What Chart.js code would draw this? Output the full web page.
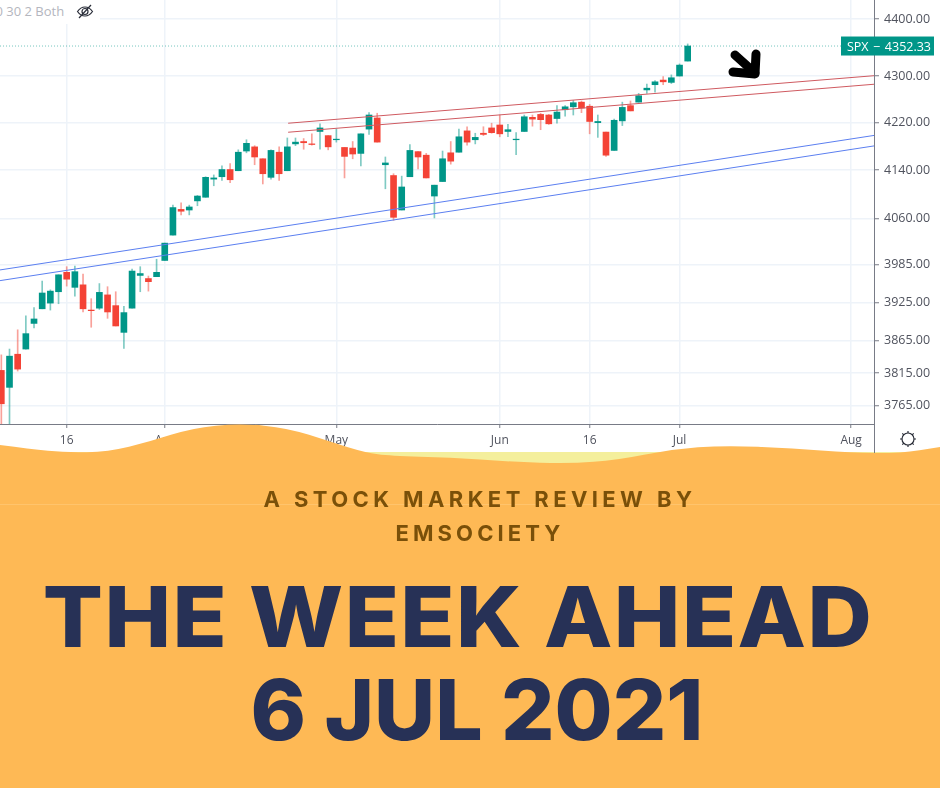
<!DOCTYPE html>
<html>
<head>
<meta charset="utf-8">
<title>The Week Ahead</title>
<script src="https://cdn.jsdelivr.net/npm/chart.js@4"></script>
<style>
  html, body { margin: 0; padding: 0; background: #fff; }
  #page { position: relative; width: 940px; height: 788px; overflow: hidden; font-family: Inter, "Open Sans", sans-serif; }
  #chart { position: absolute; left: 0; top: 0; }
  #legendBg { position: absolute; left: 0; top: 0; width: 100px; height: 24px; background: #fff; }
  #overlay, #banner { position: absolute; left: 0; top: 0; }
  .line { position: absolute; left: 0; width: 940px; text-align: center; white-space: nowrap; }
  .sub { color: #7a5009; font-weight: 700; font-size: 22px; }
  .big { color: #273156; font-weight: 800; font-size: 84px; line-height: 100px; }
</style>
</head>
<body>
<div id="page">
  <canvas id="chart" width="940" height="460"></canvas>
  <div id="legendBg"></div>
  <div style="position:absolute;left:-12px;top:2px;font:13px 'Open Sans',sans-serif;color:#b4b6be;white-space:nowrap">10 30 2 Both</div>
  <svg id="overlay" width="940" height="460">
    <!-- hidden-eye icon -->
    <g fill="none" stroke="#2a2e39" stroke-width="1.2">
      <path d="M77.5 11.5c4-6 11-6 15 0c-4 6-11 6-15 0z"/>
      <circle cx="85" cy="11.5" r="3"/>
      <path d="M79 18L91 5"/>
    </g>
    <!-- arrow hand drawn on the chart -->
    <g fill="none" stroke="#000" stroke-width="9" stroke-linecap="round" stroke-linejoin="round">
      <path d="M735 55L755 73"/>
      <path d="M756 54L755 74L733 72"/>
    </g>
  </svg>
  <svg id="banner" width="940" height="788"></svg>
  <div class="line sub" style="top:486px;left:10px;letter-spacing:4.4px">A STOCK MARKET REVIEW BY</div>
  <div class="line sub" style="top:520px;left:10px;letter-spacing:4.1px">EMSOCIETY</div>
  <div class="line big" style="top:567px;left:-12px;letter-spacing:1.3px;transform:scaleX(1.06)">THE WEEK AHEAD</div>
  <div class="line big" style="top:660px;left:7px">6 JUL 2021</div>
</div>
<script>
// SPX daily candles
const opens = [3819,3793,3844,3852,3892,3915,3924,3942,3973,3949,3953,3913,3916,3937,3920,3878,3916,3968,3963,3966,3992,4033,4075,4074,4089,4095,4125,4129,4141,4139,4172,4179,4159,4128,4170,4139,4184,4188,4184,4205,4198,4191,4178,4177,4168,4209,4228,4149,4131,4074,4129,4171,4165,4097,4121,4169,4170,4206,4191,4202,4211,4216,4205,4191,4205,4229,4234,4233,4227,4242,4247,4255,4248,4220,4204,4173,4223,4249,4255,4276,4285,4293,4289,4300,4326];
const highs = [3843,3852,3882,3904,3917,3959,3945,3969,3982,3983,3970,3931,3955,3950,3942,3919,3978,3982,3967,3994,4020,4082,4086,4082,4098,4129,4132,4147,4151,4174,4191,4181,4159,4174,4179,4194,4194,4193,4201,4218,4198,4209,4178,4188,4201,4237,4236,4162,4134,4130,4183,4171,4168,4115,4172,4188,4209,4213,4202,4213,4219,4233,4217,4203,4233,4233,4236,4234,4249,4249,4258,4257,4251,4233,4204,4226,4255,4257,4270,4286,4292,4299,4302,4321,4356];
const lows = [3730,3730,3818,3852,3885,3915,3913,3923,3951,3935,3910,3886,3914,3900,3888,3853,3916,3942,3943,3966,3992,4033,4066,4066,4081,4095,4114,4123,4119,4139,4169,4149,4117,4125,4123,4139,4181,4175,4182,4175,4174,4187,4127,4159,4147,4200,4187,4109,4057,4074,4129,4142,4127,4061,4121,4150,4170,4182,4184,4198,4202,4196,4196,4166,4205,4214,4208,4217,4219,4231,4233,4237,4201,4195,4163,4173,4215,4240,4255,4270,4272,4285,4287,4300,4326];
const closes = [3768,3841,3821,3876,3899,3940,3943,3969,3962,3974,3915,3912,3941,3910,3888,3909,3975,3971,3958,3973,4020,4078,4072,4079,4097,4128,4127,4141,4124,4170,4185,4162,4134,4173,4134,4179,4187,4186,4183,4211,4179,4192,4163,4167,4201,4233,4187,4152,4062,4112,4173,4162,4127,4115,4159,4155,4196,4187,4195,4200,4203,4201,4208,4192,4230,4226,4225,4218,4238,4247,4254,4245,4222,4222,4165,4224,4246,4240,4266,4279,4290,4290,4297,4319,4352.33];

// trend channels, [start, end] in session index and price
const blueX = [-0.16, 106.8];
const blueUpper = [3976.8, 4198.3];
const blueLower = [3959.7, 4180.6];
const redX = [35.1, 106.8];
const redUpper = [4219, 4300.6];
const redLower = [4203.7, 4285.8];

const lastPrice = 4352.33;
const priceTicks = [3765, 3815, 3865, 3925, 3985, 4060, 4140, 4220, 4300, 4400];
const dateTickIndex = [8, 20, 41, 61, 72, 83, 104];
const dateTickLabels = ['16', 'Apr', 'May', 'Jun', '16', 'Jul', 'Aug'];

const GREEN = '#009688';
const RED = '#f44336';
const sessions = opens.map((o, i) => i);
const barColors = opens.map((o, i) => closes[i] >= o ? GREEN : RED);
const wickColors = opens.map((o, i) => closes[i] >= o ? 'rgba(0,150,136,0.5)' : 'rgba(244,67,54,0.5)');

// price tag sitting on the right axis
const priceTag = {
  id: 'priceTag',
  afterDraw(chart) {
    const ctx = chart.ctx;
    const y = chart.scales.y.getPixelForValue(lastPrice);
    ctx.save();
    ctx.fillStyle = GREEN;
    ctx.fillRect(841, y - 9.5, 93, 19);
    ctx.fillStyle = '#fff';
    ctx.font = '12.5px "Open Sans", sans-serif';
    ctx.textBaseline = 'middle';
    ctx.fillText('SPX', 847, y + 1);
    ctx.fillText('\u2212', 873, y + 1);
    ctx.textAlign = 'right';
    ctx.fillText(lastPrice.toFixed(2), 931, y + 1);
    ctx.restore();
  }
};

new Chart(document.getElementById('chart'), {
  type: 'bar',
  plugins: [priceTag],
  data: {
    datasets: [
      { data: sessions.map(i => ({ x: i, y: [lows[i], highs[i]] })), backgroundColor: wickColors, barThickness: 1, order: 3 },
      { data: sessions.map(i => ({ x: i, y: [opens[i], closes[i]] })), backgroundColor: barColors, barThickness: 6, order: 2 },
      { type: 'line', data: blueX.map((x, i) => ({ x, y: blueUpper[i] })), borderColor: '#5b7ff0', borderWidth: 1, pointRadius: 0, order: 1 },
      { type: 'line', data: blueX.map((x, i) => ({ x, y: blueLower[i] })), borderColor: '#5b7ff0', borderWidth: 1, pointRadius: 0, order: 1 },
      { type: 'line', data: redX.map((x, i) => ({ x, y: redUpper[i] })), borderColor: '#cf5a60', borderWidth: 1, pointRadius: 0, order: 1 },
      { type: 'line', data: redX.map((x, i) => ({ x, y: redLower[i] })), borderColor: '#cf5a60', borderWidth: 1, pointRadius: 0, order: 1 },
      { type: 'line', data: blueX.map(x => ({ x, y: lastPrice })), borderColor: 'rgba(0,150,136,0.55)', borderWidth: 1, borderDash: [1, 2], pointRadius: 0, order: 1 }
    ]
  },
  options: {
    responsive: false,
    animation: false,
    layout: { padding: 0 },
    plugins: { legend: { display: false }, tooltip: { enabled: false } },
    scales: {
      x: {
        type: 'linear',
        offset: false,
        min: -0.163,
        max: 106.8,
        stacked: false,
        afterFit: s => { s.height = 36; s.paddingLeft = 0; s.paddingRight = 0; },
        afterBuildTicks: s => { s.ticks = dateTickIndex.map(v => ({ value: v })); },
        grid: { offset: false, color: '#eef3f9', lineWidth: 1.5, tickColor: '#787b86', tickWidth: 1, tickLength: 4 },
        border: { color: '#787b86' },
        ticks: {
          autoSkip: false,
          maxRotation: 0,
          padding: 5,
          color: '#50535e',
          font: { family: 'Open Sans', size: 12 },
          callback: v => dateTickLabels[dateTickIndex.indexOf(v)]
        }
      },
      y: {
        type: 'logarithmic',
        position: 'right',
        min: 3737.4,
        max: 4433.8,
        afterFit: s => { s.width = 66; s.paddingTop = 0; s.paddingBottom = 0; },
        afterBuildTicks: s => { s.ticks = priceTicks.map(v => ({ value: v })); },
        grid: { color: '#eef3f9', lineWidth: 1.5, tickColor: '#787b86', tickWidth: 1, tickLength: 5 },
        border: { color: '#787b86' },
        ticks: {
          autoSkip: false,
          padding: 5,
          color: '#50535e',
          font: { family: 'Open Sans', size: 12.5 },
          callback: v => Number(v).toFixed(2)
        }
      }
    },
    datasets: { bar: { grouped: false } }
  }
});

// orange banner with its wavy top edge
const waveTop = [[0,445],[30,449],[66,452.7],[108,451.7],[150,441.7],[192,428],[240,423.3],[288,428],[330,441.7],[366,452.7],[390,456],[450,457.3],[510,461.7],[570,463.7],[617,460],[671,449.3],[725,445.3],[791,448.3],[851,452.7],[899,453.3],[940,447]];
let d = 'M' + waveTop[0].join(' ');
for (let i = 1; i < waveTop.length - 1; i++) {
  const mx = (waveTop[i][0] + waveTop[i + 1][0]) / 2, my = (waveTop[i][1] + waveTop[i + 1][1]) / 2;
  d += ' Q' + waveTop[i].join(' ') + ' ' + mx + ' ' + my;
}
d += ' L940 447 L940 788 L0 788 Z';
document.getElementById('banner').innerHTML =
  '<rect x="0" y="452" width="940" height="20" fill="#f4ef9c"/>' +
  '<path d="' + d + '" fill="#feb955"/>' +
  '<rect x="0" y="504" width="940" height="1" fill="#ffc46c"/>' +
  // axis line that still shows above the wave, and the sun button
  '<rect x="874" y="424" width="1" height="29" fill="#787b86"/>' +
  '<g fill="none" stroke="#2a2e39" stroke-width="1.2"><circle cx="908" cy="439" r="6"/>' +
  '<path d="M908 431v2M908 445v2M900 439h2M914 439h2M902.3 433.3l1.5 1.5M912.2 443.2l1.5 1.5M902.3 444.7l1.5-1.5M912.2 434.8l1.5-1.5"/></g>';
</script>
</body>
</html>
